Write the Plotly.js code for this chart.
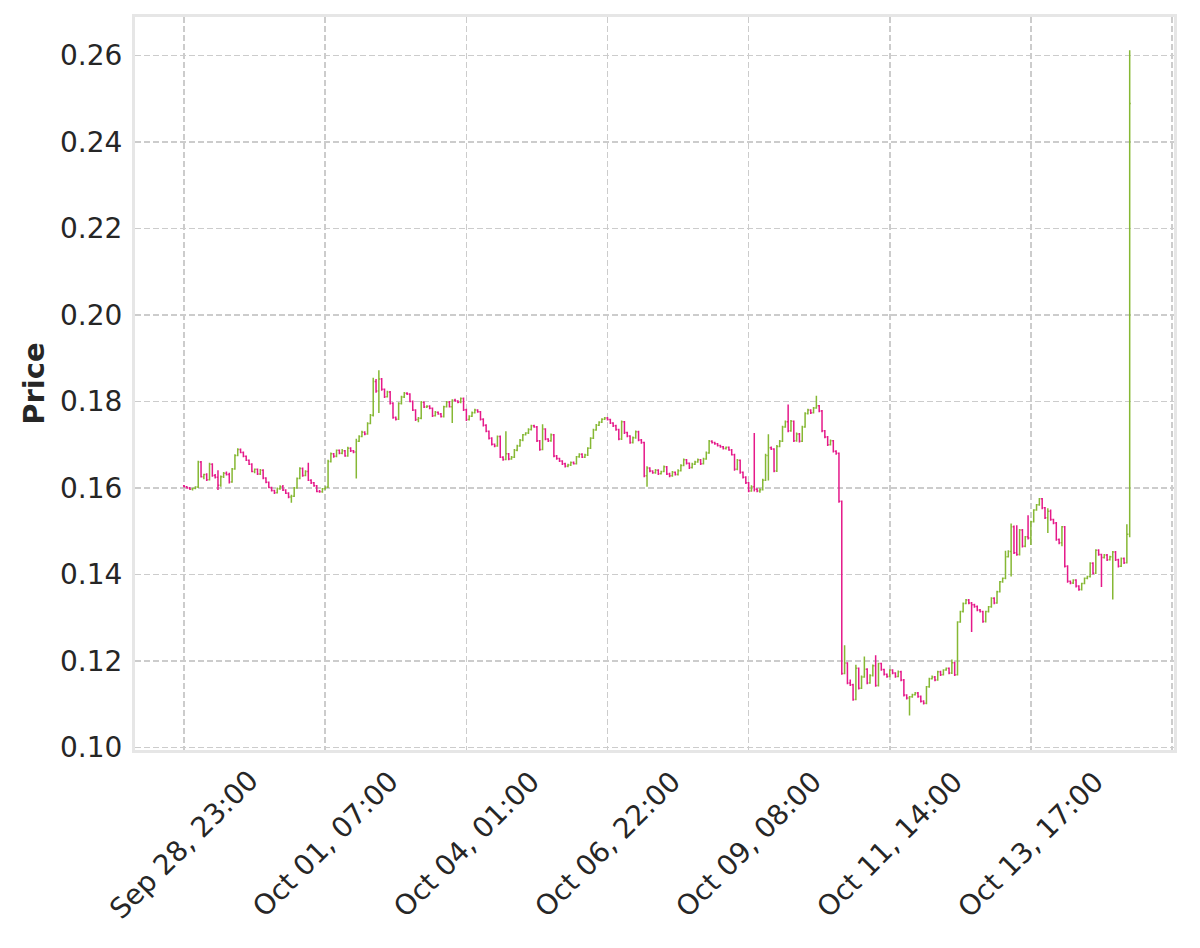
<!DOCTYPE html>
<html>
<head>
<meta charset="utf-8">
<script src="https://cdn.plot.ly/plotly-3.0.1.min.js"></script>
<style>
  html, body { margin: 0; padding: 0; background: #fff; }
  #chart { width: 1200px; height: 948px; }
</style>
</head>
<body>
<div id="chart"></div>
<script>
// hourly OHLC bars (one bar per row index, gaps removed)
var opens = [
  0.1605,0.1603,0.1600,0.1597,0.1599,0.1602,0.1660,0.1626,0.1631,0.1619,
  0.1655,0.1629,0.1625,0.1606,0.1626,0.1634,0.1631,0.1614,0.1644,0.1675,
  0.1689,0.1682,0.1673,0.1664,0.1655,0.1638,0.1643,0.1632,0.1641,0.1623,
  0.1613,0.1601,0.1594,0.1589,0.1598,0.1603,0.1595,0.1588,0.1579,0.1581,
  0.1600,0.1622,0.1645,0.1629,0.1638,0.1618,0.1612,0.1605,0.1592,0.1591,
  0.1598,0.1602,0.1661,0.1679,0.1673,0.1687,0.1680,0.1686,0.1674,0.1692,
  0.1686,0.1683,0.1708,0.1719,0.1729,0.1725,0.1749,0.1768,0.1846,0.1824,
  0.1852,0.1828,0.1811,0.1822,0.1796,0.1763,0.1759,0.1795,0.1810,0.1819,
  0.1817,0.1800,0.1780,0.1758,0.1761,0.1798,0.1787,0.1789,0.1784,0.1767,
  0.1775,0.1771,0.1765,0.1788,0.1799,0.1788,0.1803,0.1801,0.1798,0.1807,
  0.1781,0.1758,0.1766,0.1774,0.1780,0.1776,0.1759,0.1745,0.1731,0.1715,
  0.1701,0.1697,0.1719,0.1671,0.1666,0.1679,0.1667,0.1671,0.1687,0.1697,
  0.1710,0.1723,0.1727,0.1735,0.1744,0.1741,0.1709,0.1689,0.1736,0.1713,
  0.1709,0.1723,0.1674,0.1668,0.1662,0.1656,0.1650,0.1653,0.1659,0.1656,
  0.1672,0.1678,0.1671,0.1676,0.1692,0.1715,0.1734,0.1745,0.1752,0.1759,
  0.1762,0.1758,0.1750,0.1744,0.1735,0.1713,0.1753,0.1728,0.1720,0.1705,
  0.1716,0.1730,0.1711,0.1705,0.1628,0.1646,0.1639,0.1635,0.1641,0.1633,
  0.1638,0.1649,0.1632,0.1628,0.1636,0.1631,0.1640,0.1652,0.1665,0.1657,
  0.1647,0.1655,0.1660,0.1665,0.1656,0.1667,0.1681,0.1708,0.1705,0.1702,
  0.1698,0.1695,0.1691,0.1694,0.1688,0.1677,0.1643,0.1664,0.1636,0.1625,
  0.1612,0.1593,0.1603,0.1597,0.1593,0.1596,0.1618,0.1675,0.1693,0.1690,
  0.1639,0.1696,0.1708,0.1741,0.1753,0.1732,0.1754,0.1709,0.1725,0.1708,
  0.1741,0.1772,0.1780,0.1774,0.1785,0.1790,0.1778,0.1732,0.1718,0.1700,
  0.1709,0.1685,0.1680,0.1569,0.1171,0.1195,0.1149,0.1145,0.1111,0.1183,
  0.1137,0.1163,0.1181,0.1149,0.1166,0.1189,0.1143,0.1194,0.1180,0.1169,
  0.1164,0.1179,0.1172,0.1164,0.1175,0.1156,0.1121,0.1114,0.1117,0.1122,
  0.1126,0.1118,0.1107,0.1102,0.1140,0.1159,0.1163,0.1156,0.1175,0.1168,
  0.1179,0.1183,0.1172,0.1196,0.1168,0.1290,0.1314,0.1333,0.1341,0.1334,
  0.1330,0.1326,0.1318,0.1314,0.1291,0.1314,0.1325,0.1345,0.1334,0.1360,
  0.1383,0.1391,0.1441,0.1453,0.1510,0.1450,0.1446,0.1503,0.1465,0.1487,
  0.1484,0.1522,0.1549,0.1561,0.1575,0.1554,0.1531,0.1546,0.1527,0.1519,
  0.1481,0.1473,0.1510,0.1419,0.1384,0.1380,0.1387,0.1373,0.1365,0.1379,
  0.1391,0.1395,0.1426,0.1403,0.1456,0.1446,0.1439,0.1445,0.1434,0.1441,
  0.1452,0.1434,0.1419,0.1437,0.1427,0.1493
];
var highs = [
  0.1607,0.1604,0.1602,0.1600,0.1604,0.1663,0.1662,0.1633,0.1634,0.1658,
  0.1657,0.1632,0.1641,0.1629,0.1637,0.1638,0.1635,0.1646,0.1678,0.1692,
  0.1691,0.1684,0.1675,0.1666,0.1657,0.1645,0.1645,0.1644,0.1643,0.1625,
  0.1615,0.1603,0.1596,0.1601,0.1606,0.1607,0.1597,0.1590,0.1584,0.1602,
  0.1624,0.1648,0.1647,0.1641,0.1658,0.1620,0.1614,0.1607,0.1595,0.1600,
  0.1604,0.1665,0.1682,0.1681,0.1689,0.1689,0.1690,0.1688,0.1695,0.1694,
  0.1688,0.1714,0.1722,0.1732,0.1731,0.1752,0.1771,0.1855,0.1852,0.1872,
  0.1854,0.1830,0.1825,0.1824,0.1798,0.1765,0.1798,0.1813,0.1822,0.1821,
  0.1819,0.1802,0.1782,0.1764,0.1801,0.1800,0.1791,0.1791,0.1786,0.1778,
  0.1777,0.1773,0.1790,0.1801,0.1801,0.1805,0.1806,0.1803,0.1809,0.1809,
  0.1783,0.1768,0.1777,0.1783,0.1782,0.1778,0.1761,0.1747,0.1733,0.1717,
  0.1703,0.1721,0.1721,0.1673,0.1731,0.1681,0.1674,0.1690,0.1700,0.1713,
  0.1725,0.1729,0.1738,0.1746,0.1746,0.1743,0.1711,0.1747,0.1738,0.1715,
  0.1726,0.1725,0.1676,0.1670,0.1664,0.1658,0.1656,0.1661,0.1661,0.1674,
  0.1680,0.1680,0.1679,0.1694,0.1717,0.1737,0.1748,0.1754,0.1761,0.1764,
  0.1764,0.1760,0.1752,0.1746,0.1737,0.1756,0.1755,0.1730,0.1722,0.1719,
  0.1733,0.1732,0.1713,0.1707,0.1650,0.1648,0.1641,0.1644,0.1643,0.1640,
  0.1652,0.1651,0.1635,0.1639,0.1638,0.1643,0.1655,0.1668,0.1667,0.1659,
  0.1658,0.1663,0.1668,0.1667,0.1670,0.1684,0.1711,0.1710,0.1707,0.1704,
  0.1700,0.1697,0.1696,0.1696,0.1690,0.1679,0.1667,0.1666,0.1638,0.1627,
  0.1614,0.1606,0.1727,0.1599,0.1599,0.1621,0.1679,0.1724,0.1696,0.1692,
  0.1699,0.1711,0.1744,0.1756,0.1793,0.1757,0.1756,0.1728,0.1727,0.1744,
  0.1775,0.1783,0.1782,0.1787,0.1813,0.1792,0.1780,0.1734,0.1720,0.1712,
  0.1711,0.1687,0.1682,0.1571,0.1236,0.1197,0.1157,0.1147,0.1191,0.1185,
  0.1166,0.1210,0.1183,0.1169,0.1192,0.1213,0.1196,0.1196,0.1182,0.1171,
  0.1181,0.1181,0.1174,0.1178,0.1177,0.1158,0.1123,0.1119,0.1124,0.1128,
  0.1128,0.1120,0.1109,0.1142,0.1161,0.1166,0.1165,0.1177,0.1177,0.1181,
  0.1185,0.1185,0.1203,0.1198,0.1292,0.1316,0.1335,0.1343,0.1343,0.1336,
  0.1332,0.1328,0.1320,0.1316,0.1316,0.1327,0.1347,0.1347,0.1362,0.1385,
  0.1393,0.1455,0.1456,0.1518,0.1513,0.1514,0.1505,0.1505,0.1489,0.1537,
  0.1524,0.1551,0.1563,0.1577,0.1577,0.1556,0.1553,0.1550,0.1529,0.1521,
  0.1483,0.1512,0.1512,0.1421,0.1386,0.1389,0.1389,0.1375,0.1381,0.1393,
  0.1397,0.1428,0.1428,0.1458,0.1458,0.1448,0.1447,0.1447,0.1443,0.1454,
  0.1454,0.1436,0.1439,0.1439,0.1516,0.2612
];
var lows = [
  0.1601,0.1598,0.1596,0.1594,0.1597,0.1600,0.1624,0.1620,0.1616,0.1617,
  0.1626,0.1622,0.1595,0.1603,0.1623,0.1629,0.1610,0.1612,0.1642,0.1673,
  0.1680,0.1671,0.1662,0.1653,0.1636,0.1634,0.1630,0.1630,0.1620,0.1611,
  0.1599,0.1592,0.1586,0.1587,0.1596,0.1593,0.1586,0.1576,0.1566,0.1579,
  0.1598,0.1620,0.1626,0.1627,0.1616,0.1609,0.1603,0.1590,0.1589,0.1589,
  0.1596,0.1600,0.1659,0.1670,0.1671,0.1678,0.1678,0.1672,0.1672,0.1683,
  0.1680,0.1622,0.1706,0.1717,0.1722,0.1723,0.1747,0.1765,0.1820,0.1773,
  0.1825,0.1808,0.1809,0.1793,0.1760,0.1756,0.1757,0.1793,0.1808,0.1815,
  0.1798,0.1778,0.1755,0.1752,0.1759,0.1785,0.1785,0.1782,0.1764,0.1765,
  0.1769,0.1763,0.1763,0.1786,0.1786,0.1750,0.1800,0.1796,0.1796,0.1778,
  0.1755,0.1756,0.1764,0.1772,0.1774,0.1756,0.1742,0.1729,0.1712,0.1698,
  0.1694,0.1695,0.1669,0.1663,0.1664,0.1664,0.1665,0.1669,0.1685,0.1695,
  0.1708,0.1721,0.1725,0.1733,0.1739,0.1706,0.1686,0.1687,0.1710,0.1706,
  0.1707,0.1671,0.1665,0.1660,0.1653,0.1647,0.1648,0.1651,0.1654,0.1654,
  0.1670,0.1669,0.1669,0.1674,0.1690,0.1713,0.1732,0.1743,0.1750,0.1757,
  0.1756,0.1748,0.1741,0.1732,0.1710,0.1711,0.1725,0.1717,0.1702,0.1703,
  0.1714,0.1708,0.1702,0.1625,0.1603,0.1636,0.1633,0.1633,0.1630,0.1631,
  0.1636,0.1630,0.1625,0.1626,0.1629,0.1629,0.1638,0.1650,0.1654,0.1644,
  0.1645,0.1653,0.1658,0.1653,0.1654,0.1665,0.1679,0.1703,0.1700,0.1696,
  0.1693,0.1689,0.1689,0.1686,0.1675,0.1640,0.1641,0.1633,0.1622,0.1609,
  0.1590,0.1591,0.1592,0.1590,0.1589,0.1594,0.1616,0.1617,0.1688,0.1636,
  0.1637,0.1694,0.1706,0.1739,0.1729,0.1730,0.1706,0.1707,0.1705,0.1706,
  0.1739,0.1770,0.1771,0.1772,0.1783,0.1775,0.1729,0.1715,0.1697,0.1698,
  0.1682,0.1677,0.1566,0.1168,0.1169,0.1146,0.1142,0.1108,0.1109,0.1134,
  0.1135,0.1161,0.1146,0.1147,0.1164,0.1140,0.1141,0.1177,0.1166,0.1161,
  0.1162,0.1169,0.1161,0.1162,0.1153,0.1118,0.1111,0.1074,0.1115,0.1120,
  0.1115,0.1104,0.1099,0.1100,0.1138,0.1157,0.1153,0.1154,0.1165,0.1166,
  0.1177,0.1169,0.1170,0.1165,0.1166,0.1288,0.1312,0.1331,0.1331,0.1267,
  0.1323,0.1315,0.1312,0.1288,0.1289,0.1312,0.1323,0.1331,0.1332,0.1358,
  0.1381,0.1389,0.1439,0.1395,0.1447,0.1443,0.1444,0.1462,0.1463,0.1481,
  0.1468,0.1520,0.1547,0.1559,0.1551,0.1528,0.1496,0.1524,0.1516,0.1478,
  0.1470,0.1465,0.1416,0.1381,0.1377,0.1378,0.1370,0.1362,0.1363,0.1377,
  0.1389,0.1393,0.1400,0.1401,0.1443,0.1371,0.1437,0.1431,0.1432,0.1342,
  0.1431,0.1416,0.1417,0.1424,0.1425,0.1486
];
var closes = [
  0.1603,0.1600,0.1597,0.1599,0.1602,0.1660,0.1626,0.1631,0.1619,0.1655,
  0.1629,0.1625,0.1606,0.1626,0.1634,0.1631,0.1614,0.1644,0.1675,0.1689,
  0.1682,0.1673,0.1664,0.1655,0.1638,0.1643,0.1632,0.1641,0.1623,0.1613,
  0.1601,0.1594,0.1589,0.1598,0.1603,0.1595,0.1588,0.1579,0.1581,0.1600,
  0.1622,0.1645,0.1629,0.1638,0.1618,0.1612,0.1605,0.1592,0.1591,0.1598,
  0.1602,0.1661,0.1679,0.1673,0.1687,0.1680,0.1686,0.1674,0.1692,0.1686,
  0.1683,0.1708,0.1719,0.1729,0.1725,0.1749,0.1768,0.1846,0.1824,0.1852,
  0.1828,0.1811,0.1822,0.1796,0.1763,0.1759,0.1795,0.1810,0.1819,0.1817,
  0.1800,0.1780,0.1758,0.1761,0.1798,0.1787,0.1789,0.1784,0.1767,0.1775,
  0.1771,0.1765,0.1788,0.1799,0.1788,0.1803,0.1801,0.1798,0.1807,0.1781,
  0.1758,0.1766,0.1774,0.1780,0.1776,0.1759,0.1745,0.1731,0.1715,0.1701,
  0.1697,0.1719,0.1671,0.1666,0.1679,0.1667,0.1671,0.1687,0.1697,0.1710,
  0.1723,0.1727,0.1735,0.1744,0.1741,0.1709,0.1689,0.1736,0.1713,0.1709,
  0.1723,0.1674,0.1668,0.1662,0.1656,0.1650,0.1653,0.1659,0.1656,0.1672,
  0.1678,0.1671,0.1676,0.1692,0.1715,0.1734,0.1745,0.1752,0.1759,0.1762,
  0.1758,0.1750,0.1744,0.1735,0.1713,0.1753,0.1728,0.1720,0.1705,0.1716,
  0.1730,0.1711,0.1705,0.1628,0.1646,0.1639,0.1635,0.1641,0.1633,0.1638,
  0.1649,0.1632,0.1628,0.1636,0.1631,0.1640,0.1652,0.1665,0.1657,0.1647,
  0.1655,0.1660,0.1665,0.1656,0.1667,0.1681,0.1708,0.1705,0.1702,0.1698,
  0.1695,0.1691,0.1694,0.1688,0.1677,0.1643,0.1664,0.1636,0.1625,0.1612,
  0.1593,0.1603,0.1597,0.1593,0.1596,0.1618,0.1675,0.1693,0.1690,0.1639,
  0.1696,0.1708,0.1741,0.1753,0.1732,0.1754,0.1709,0.1725,0.1708,0.1741,
  0.1772,0.1780,0.1774,0.1785,0.1790,0.1778,0.1732,0.1718,0.1700,0.1709,
  0.1685,0.1680,0.1569,0.1171,0.1195,0.1149,0.1145,0.1111,0.1183,0.1137,
  0.1163,0.1181,0.1149,0.1166,0.1189,0.1143,0.1194,0.1180,0.1169,0.1164,
  0.1179,0.1172,0.1164,0.1175,0.1156,0.1121,0.1114,0.1117,0.1122,0.1126,
  0.1118,0.1107,0.1102,0.1140,0.1159,0.1163,0.1156,0.1175,0.1168,0.1179,
  0.1183,0.1172,0.1196,0.1168,0.1290,0.1314,0.1333,0.1341,0.1334,0.1330,
  0.1326,0.1318,0.1314,0.1291,0.1314,0.1325,0.1345,0.1334,0.1360,0.1383,
  0.1391,0.1441,0.1453,0.1510,0.1450,0.1446,0.1503,0.1465,0.1487,0.1484,
  0.1522,0.1549,0.1561,0.1575,0.1554,0.1531,0.1546,0.1527,0.1519,0.1481,
  0.1473,0.1510,0.1419,0.1384,0.1380,0.1387,0.1373,0.1365,0.1379,0.1391,
  0.1395,0.1426,0.1403,0.1456,0.1446,0.1439,0.1445,0.1434,0.1441,0.1452,
  0.1434,0.1419,0.1437,0.1427,0.1493,0.2489
];

// tick labels sit every 50 bars
var tickPos = [0, 50, 100, 150, 200, 250, 300];
var tickLabels = ['Sep 28, 23:00', 'Oct 01, 07:00', 'Oct 04, 01:00', 'Oct 06, 22:00',
                  'Oct 09, 08:00', 'Oct 11, 14:00', 'Oct 13, 17:00'];

var idx = closes.map(function (c, i) { return i; });

var trace = {
  type: 'ohlc',
  x: idx,
  open: opens,
  high: highs,
  low: lows,
  close: closes,
  tickwidth: 0.4,
  increasing: { line: { color: '#86b834', width: 1.5 } },
  decreasing: { line: { color: '#e5198a', width: 1.5 } },
  hoverinfo: 'skip'
};

var gridStyle = { gridcolor: '#cccccc', gridwidth: 1.5, griddash: '6px,3px' };
var txt = '#262626';

// rotated date labels, centred under their tick like matplotlib does
var notes = tickLabels.map(function (t, k) {
  return {
    x: tickPos[k], xref: 'x',
    y: -0.129, yref: 'paper',
    text: t, showarrow: false,
    textangle: -45,
    xanchor: 'center', yanchor: 'middle',
    font: { family: 'DejaVu Sans', size: 28, color: txt }
  };
});

var layout = {
  width: 1200,
  height: 948,
  margin: { l: 135, r: 26, t: 17, b: 198 },
  paper_bgcolor: '#ffffff',
  plot_bgcolor: '#ffffff',
  showlegend: false,
  font: { family: 'DejaVu Sans', color: txt },
  xaxis: Object.assign({
    range: [-17.4, 350.7],
    tickvals: tickPos.concat([350]),
    showticklabels: false,
    ticks: '',
    zeroline: false,
    showline: true, linecolor: '#e6e6e6', linewidth: 3, mirror: true,
    rangeslider: { visible: false },
    fixedrange: true
  }, gridStyle),
  yaxis: Object.assign({
    range: [0.0994, 0.2689],
    tick0: 0.10,
    dtick: 0.02,
    tickformat: '.2f',
    ticks: '',
    ticklabelstandoff: 4,
    tickfont: { family: 'DejaVu Sans', size: 28, color: txt },
    zeroline: false,
    showline: true, linecolor: '#e6e6e6', linewidth: 3, mirror: true,
    title: { text: 'Price', standoff: 7,
             font: { family: 'DejaVu Sans', size: 29, color: txt, weight: 'bold' } },
    fixedrange: true
  }, gridStyle),
  annotations: notes
};

Plotly.newPlot('chart', [trace], layout, { staticPlot: true, displayModeBar: false });
</script>
</body>
</html>
